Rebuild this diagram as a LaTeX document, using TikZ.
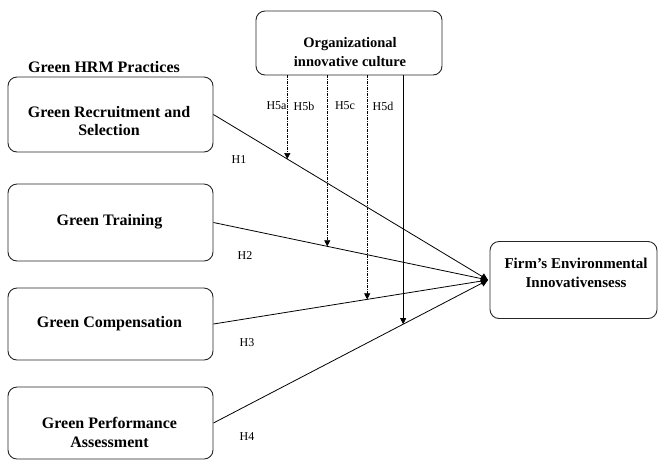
\documentclass[tikz,border=0pt]{standalone}
\usepackage{fontspec}
\setmainfont{Liberation Serif}
\usetikzlibrary{arrows.meta,calc}
\tikzset{
  box/.style={draw=black!85, line width=0.9pt, rounded corners=9pt, inner sep=0pt},
  boxtext/.style={font=\fontsize{16}{19}\selectfont\bfseries, align=center, inner sep=0pt},
  hlabel/.style={font=\fontsize{12}{14}\selectfont, inner sep=0pt},
  mainarrow/.style={line width=0.8pt, -{Triangle[width=7pt,length=7pt]}},
  modarrow/.style={line width=0.6pt, -{Triangle[width=6pt,length=6pt]}},
  moddash/.style={modarrow, dash pattern=on 3pt off 1pt on 1pt off 1pt}
}
\begin{document}
\begin{tikzpicture}[x=1pt,y=-1pt]
\useasboundingbox (0,0) rectangle (658,459);
% boxes
\node[box, minimum width=186pt, minimum height=64pt] (org) at (349,43) {};
\node[box, minimum width=205pt, minimum height=75pt] (r1) at (110.5,114.5) {};
\node[box, minimum width=205pt, minimum height=77pt] (r2) at (110.5,222.5) {};
\node[box, minimum width=205pt, minimum height=72pt] (r3) at (110.5,324) {};
\node[box, minimum width=205pt, minimum height=72pt] (r4) at (110.5,423) {};
\node[box, minimum width=167pt, minimum height=77pt] (firm) at (573.5,280) {};
% texts
\node[boxtext, font=\fontsize{16}{18}\selectfont\bfseries] (ghrm) at (104,67) {Green HRM Practices};
\node[boxtext, font=\fontsize{14.5}{19}\selectfont\bfseries] (orgt) at (350,52.5) {Organizational\\innovative culture};
\node[boxtext, font=\fontsize{16}{18}\selectfont\bfseries] (r1t) at (109,121) {Green Recruitment and\\Selection};
\node[boxtext] (r2t) at (109.5,222) {Green Training};
\node[boxtext] (r3t) at (109.5,324) {Green Compensation};
\node[boxtext] (r4t) at (109.5,432.5) {Green Performance\\Assessment};
\node[boxtext, font=\fontsize{15}{19}\selectfont\bfseries] (firmt) at (576,272.5) {Firm's Environmental\\Innovativensess};
% main arrows
\coordinate (tip) at (488,280);
\draw[mainarrow] (r1.east) -- (tip);
\draw[mainarrow] (r2.east) -- (tip);
\draw[mainarrow] (r3.east) -- (tip);
\draw[mainarrow] (r4.east) -- (tip);
% moderating arrows
\coordinate (m1) at ($(r1.east)!0.269!(tip)$);
\coordinate (m2) at ($(r2.east)!0.4145!(tip)$);
\coordinate (m3) at ($(r3.east)!0.56!(tip)$);
\coordinate (m4) at ($(r4.east)!0.691!(tip)$);
\draw[moddash] (m1 |- org.south) -- (m1);
\draw[moddash] (m2 |- org.south) -- (m2);
\draw[moddash] (m3 |- org.south) -- (m3);
\draw[modarrow] (m4 |- org.south) -- (m4);
% labels
\node[hlabel] (h5a) at (276.5,106) {H5a};
\node[hlabel] (h5b) at (304,106) {H5b};
\node[hlabel] (h5c) at (345,106) {H5c};
\node[hlabel] (h5d) at (383,106) {H5d};
\node[hlabel] (h1) at (239,160) {H1};
\node[hlabel] (h2) at (245,256) {H2};
\node[hlabel] (h3) at (247,343) {H3};
\node[hlabel] (h4) at (247,437) {H4};
\end{tikzpicture}
\end{document}
